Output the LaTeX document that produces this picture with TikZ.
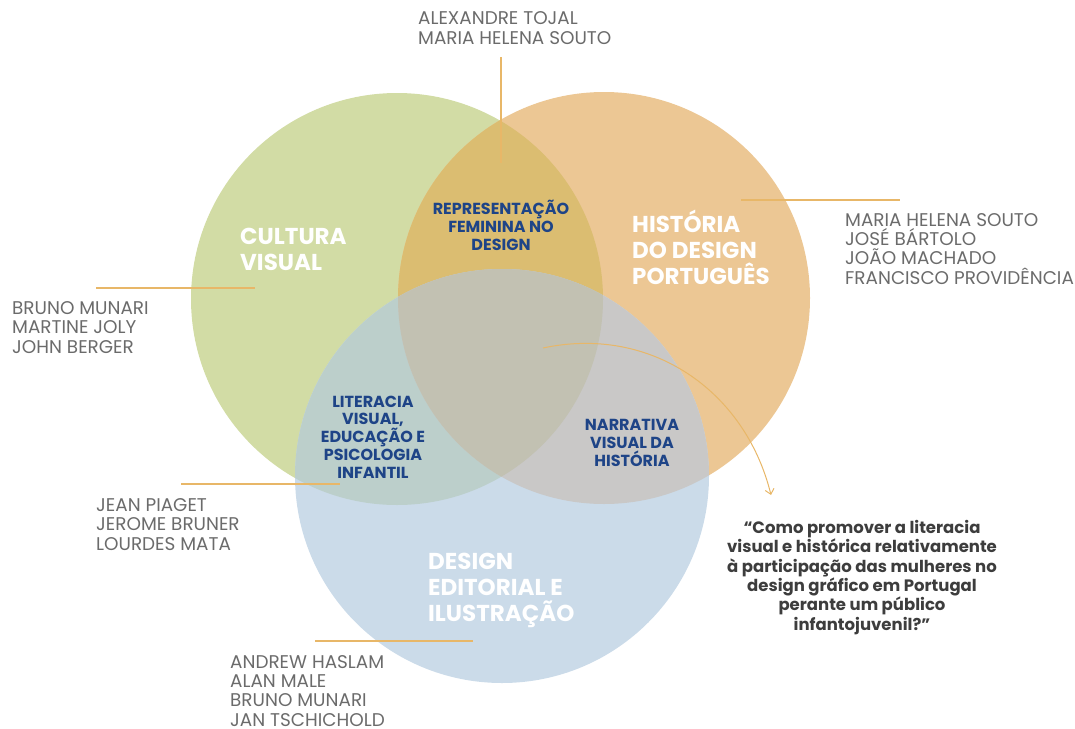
\documentclass[tikz,border=0pt]{standalone}
\usepackage{fontspec}
\setmainfont{Poppins}
\usetikzlibrary{arrows.meta}
\definecolor{greenCirc}{HTML}{D2DCA5}
\definecolor{orangeCirc}{HTML}{ECC794}
\definecolor{blueCirc}{HTML}{CBDBE9}
\definecolor{greenOrange}{HTML}{DBBD71}
\definecolor{greenBlue}{HTML}{BCCFCB}
\definecolor{orangeBlue}{HTML}{C9C8C7}
\definecolor{allThree}{HTML}{C2C1B2}
\definecolor{leaderCol}{HTML}{E8B768}
\definecolor{nameCol}{HTML}{6B6B6B}
\definecolor{areaCol}{HTML}{1E4487}
\definecolor{askCol}{HTML}{3D3D3D}
\tikzset{
    authors/.style={anchor=base west, align=left, inner sep=0pt, text=nameCol,
		font=\fontsize{18.4}{19.3}\selectfont},
    field/.style={anchor=base west, align=left, inner sep=0pt, text=white,
		font=\fontsize{23}{25.6}\selectfont\bfseries},
    overlap/.style={anchor=base, align=center, inner sep=0pt, text=areaCol,
		font=\fontsize{16}{17.7}\selectfont\bfseries},
    leader/.style={leaderCol, line width=1.2pt}
}

\begin{document}
\begin{tikzpicture}[x=1pt, y=-1pt]
			\useasboundingbox (0,0) rectangle (1075,728);
			% the three circles
			\fill[greenCirc] (397,299) circle (206);
			\fill[orangeCirc] (604,298) circle (206);
			\fill[blueCirc] (502,476) circle (207);
			\begin{scope}
				\clip (397,299) circle (206);
				\fill[greenOrange] (604,298) circle (206);
				\fill[greenBlue] (502,476) circle (207);
			\end{scope}
			\begin{scope}
				\clip (604,298) circle (206);
				\fill[orangeBlue] (502,476) circle (207);
				\clip (397,299) circle (206);
				\fill[allThree] (502,476) circle (207);
			\end{scope}

			% fields (placed at the baseline of the last line)
			\node[field] (cultura) at (240,270) {CULTURA\\VISUAL};
			\node[field] (historia) at (632,284) {HISTÓRIA\\DO DESIGN\\PORTUGUÊS};
			\node[field] (editorial) at (428,621) {DESIGN\\EDITORIAL E\\ILUSTRAÇÃO};

			% overlaps
			\node[overlap] (feminina) at (501,250) {REPRESENTAÇÃO\\FEMININA NO\\DESIGN};
			\node[overlap] (literacia) at (373,478) {LITERACIA\\VISUAL,\\EDUCAÇÃO E\\PSICOLOGIA\\INFANTIL};
			\node[overlap] (narrativa) at (632,466) {NARRATIVA\\VISUAL DA\\HISTÓRIA};

			% authors
			\node[authors] (autTop) at (418,44) {ALEXANDRE TOJAL\\MARIA HELENA SOUTO};
			\node[authors] (autRight) at (845,284) {MARIA HELENA SOUTO\\JOSÉ BÁRTOLO\\JOÃO MACHADO\\FRANCISCO PROVIDÊNCIA};
			\node[authors] (autLeft) at (12,353) {BRUNO MUNARI\\MARTINE JOLY\\JOHN BERGER};
			\node[authors] (autPiaget) at (96,550) {JEAN PIAGET\\JEROME BRUNER\\LOURDES MATA};
			\node[authors] (autBottom) at (230,726) {ANDREW HASLAM\\ALAN MALE\\BRUNO MUNARI\\JAN TSCHICHOLD};

			% question
			\node[anchor=base, align=center, inner sep=0pt, text=askCol,
				font=\fontsize{16.5}{19.3}\selectfont\bfseries] (pergunta) at (862,630)
				{“Como promover a literacia\\visual e histórica relativamente\\à participação das mulheres no\\design gráfico em Portugal\\perante um público\\infantojuvenil?”};

			% leader lines
			\coordinate (topA) at (501,57);
			\coordinate (topB) at (501,163);
			\coordinate (rightA) at (741,200);
			\coordinate (rightB) at (900,200);
			\coordinate (leftA) at (96,288);
			\coordinate (leftB) at (255,288);
			\coordinate (piagetA) at (181,484);
			\coordinate (piagetB) at (340,484);
			\coordinate (bottomA) at (315,641);
			\coordinate (bottomB) at (473,641);
			\draw[leader] (topA) -- (topB);
			\draw[leader] (rightA) -- (rightB);
			\draw[leader] (leftA) -- (leftB);
			\draw[leader] (piagetA) -- (piagetB);
			\draw[leader] (bottomA) -- (bottomB);

			\coordinate (centre) at (543,348);
			\coordinate (askTip) at (771,495);
			\draw[leaderCol, line width=1pt, -{Straight Barb[length=5pt, width=9pt]}]
				(centre) .. controls (650,325) and (745,390) .. (askTip);
		\end{tikzpicture}
\end{document}
